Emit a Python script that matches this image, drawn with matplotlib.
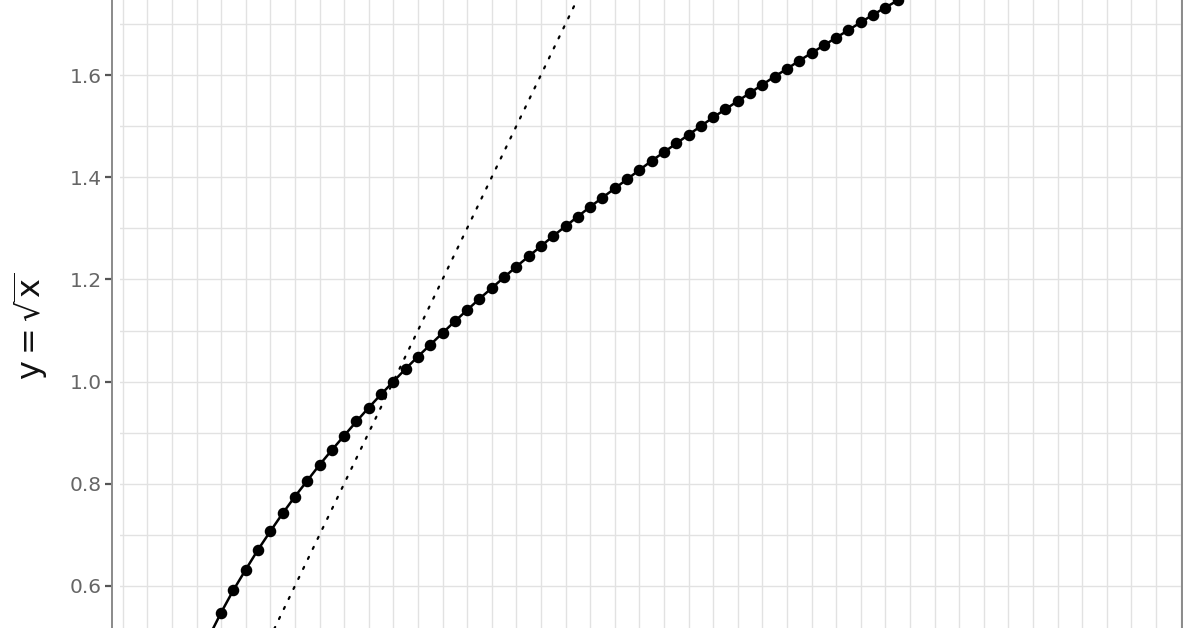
import matplotlib
matplotlib.use("Agg")
import matplotlib.pyplot as plt
from matplotlib.ticker import MultipleLocator

plt.rcParams['font.family'] = ['DejaVu Sans']
plt.rcParams['mathtext.default'] = 'regular'

x_pts = [0.00, 0.05, 0.10, 0.15, 0.20, 0.25, 0.30, 0.35, 0.40, 0.45,
         0.50, 0.55, 0.60, 0.65, 0.70, 0.75, 0.80, 0.85, 0.90, 0.95,
         1.00, 1.05, 1.10, 1.15, 1.20, 1.25, 1.30, 1.35, 1.40, 1.45,
         1.50, 1.55, 1.60, 1.65, 1.70, 1.75, 1.80, 1.85, 1.90, 1.95,
         2.00, 2.05, 2.10, 2.15, 2.20, 2.25, 2.30, 2.35, 2.40, 2.45,
         2.50, 2.55, 2.60, 2.65, 2.70, 2.75, 2.80, 2.85, 2.90, 2.95,
         3.00, 3.05, 3.10, 3.15, 3.20]
y_pts = [0.000, 0.224, 0.316, 0.387, 0.447, 0.500, 0.548, 0.592, 0.632, 0.671,
         0.707, 0.742, 0.775, 0.806, 0.837, 0.866, 0.894, 0.922, 0.949, 0.975,
         1.000, 1.025, 1.049, 1.072, 1.095, 1.118, 1.140, 1.162, 1.183, 1.204,
         1.225, 1.245, 1.265, 1.285, 1.304, 1.323, 1.342, 1.360, 1.378, 1.396,
         1.414, 1.432, 1.449, 1.466, 1.483, 1.500, 1.517, 1.533, 1.549, 1.565,
         1.581, 1.597, 1.612, 1.628, 1.643, 1.658, 1.673, 1.688, 1.703, 1.718,
         1.732, 1.746, 1.761, 1.775, 1.789]

# reference line y = x
x_ref = [0.0, 4.0]
y_ref = [0.0, 4.0]

fig = plt.figure(figsize=(11.96, 6.28), dpi=100)
ax = fig.add_axes([120 / 1196, 0.0, 1062 / 1196, 1.0])

ax.plot(x_ref, y_ref, color='black', lw=1.6, linestyle=(0, (1, 4.0)),
        dash_capstyle='round', zorder=2)
ax.plot(x_pts, y_pts, color='black', lw=1.8, marker='o', markersize=7.3,
        zorder=3)

ax.set_xlim(-0.111, 4.206)
ax.set_ylim(0.5178, 1.7468)

ax.xaxis.set_major_locator(MultipleLocator(0.5))
ax.xaxis.set_minor_locator(MultipleLocator(0.1))
ax.yaxis.set_major_locator(MultipleLocator(0.2))
ax.yaxis.set_minor_locator(MultipleLocator(0.1))
ax.yaxis.set_major_formatter(matplotlib.ticker.FormatStrFormatter('%.1f'))

ax.grid(True, which='both', color='#e2e2e2', lw=1.0)
ax.set_axisbelow(True)

ax.spines['top'].set_visible(False)
ax.spines['bottom'].set_visible(False)
ax.spines['left'].set_position(('outward', 6))
for s in ('left', 'right'):
    ax.spines[s].set_color('#8a8a8a')
    ax.spines[s].set_linewidth(1.4)

ax.tick_params(axis='x', which='both', bottom=False, labelbottom=False)
ax.tick_params(axis='y', which='major', length=5, width=1.6, color='#555555',
               labelsize=14.5, labelcolor='#666666', pad=2)
ax.tick_params(axis='y', which='minor', left=False)

ax.set_ylabel(r'$y = \sqrt{x}$', fontsize=23, color='#111111')
ax.yaxis.set_label_coords(-0.066, 0.481)

fig.savefig('out.png', dpi=100)
